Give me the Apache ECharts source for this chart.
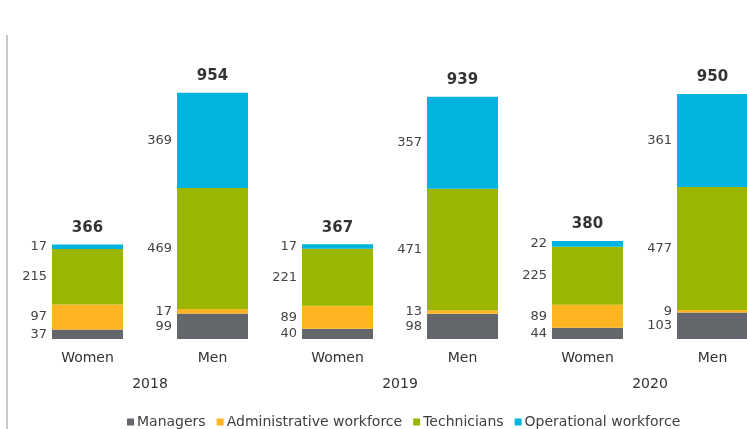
<!DOCTYPE html>
<html>
<head>
<meta charset="utf-8">
<script src="https://cdn.jsdelivr.net/npm/echarts@6/dist/echarts.min.js"></script>
<style>
html,body{margin:0;padding:0;background:#fff;}
#chart{width:747px;height:429px;}
</style>
</head>
<body>
<div id="chart"></div>
<script>
const categories = ['Women','Men','Women','Men','Women','Men'];
const years = ['2018','2019','2020'];
const managers = [37,99,40,98,44,103];
const administrative = [97,17,89,13,89,9];
const technicians = [215,469,221,471,225,477];
const operational = [17,369,17,357,22,361];
const totals = [366,954,367,939,380,950];

const FONT = '"DejaVu Sans", Verdana, sans-serif';
const chart = echarts.init(document.getElementById('chart'));

function seg(name, data, color) {
  return {
    name: name, type: 'bar', stack: 'a', data: data, barWidth: 71,
    itemStyle: { color: color },
    label: { show: true, position: 'left', distance: 5, color: '#444', fontSize: 13, fontFamily: FONT },
    emphasis: { disabled: true }
  };
}

chart.setOption({
  animation: false,
  backgroundColor: '#fff',
  textStyle: { fontFamily: FONT },
  graphic: [{
    type: 'line', shape: { x1: 7, y1: 35, x2: 7, y2: 429 },
    style: { stroke: '#c8c8c8', lineWidth: 2 }
  }],
  grid: { left: 25, top: 81, width: 750, height: 258, outerBoundsMode: 'none', containLabel: false },
  legend: {
    top: 410, left: 122, padding: 5,
    data: ['Managers','Administrative workforce','Technicians','Operational workforce'],
    icon: 'rect', itemWidth: 7, itemHeight: 7, itemGap: 11,
    textStyle: { fontSize: 14, color: '#404040', fontFamily: FONT, padding: [0,0,0,-2] }
  },
  xAxis: [{
    type: 'category', data: categories,
    axisLine: { show: false }, axisTick: { show: false },
    axisLabel: { margin: 12, fontSize: 14, color: '#333', fontFamily: FONT }
  }, {
    type: 'category', data: years, position: 'bottom',
    axisLine: { show: false }, axisTick: { show: false },
    axisLabel: { margin: 38, fontSize: 14, color: '#333', fontFamily: FONT }
  }],
  yAxis: { type: 'value', min: 0, max: 1000, show: false, splitLine: { show: false } },
  series: [
    seg('Managers', managers, '#63666a'),
    seg('Administrative workforce', administrative, '#fdb521'),
    seg('Technicians', technicians, '#9bb600'),
    seg('Operational workforce', operational, '#00b4e0'),
    {
      name: 'Total', type: 'scatter', data: totals, symbolSize: 0,
      label: { show: true, position: 'top', distance: 9, color: '#000', fontSize: 15, fontWeight: 'bold', fontFamily: FONT },
      emphasis: { disabled: true }
    }
  ]
});
</script>
</body>
</html>
